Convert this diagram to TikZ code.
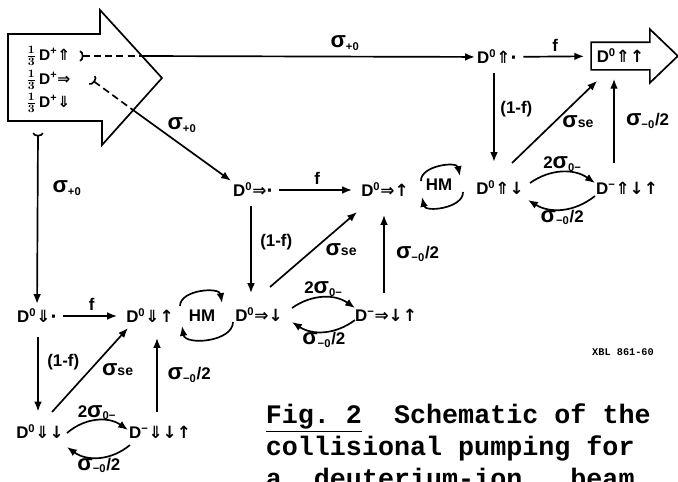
\documentclass[tikz,border=0pt]{standalone}
\usepackage{fontspec}
\setmainfont{Liberation Sans}
\setmonofont{Liberation Mono}
\newfontfamily\arrfont{DejaVu Sans}
\usetikzlibrary{arrows.meta}
\newcommand\sUU{{\arrfont ⇑}}
\newcommand\sDD{{\arrfont ⇓}}
\newcommand\sRR{{\arrfont ⇒}}
\newcommand\sU{{\arrfont ↑}}
\newcommand\sD{{\arrfont ↓}}
\newcommand\sdot{{\arrfont ·}}
\newcommand\sig{{\fontsize{16}{16}\selectfont σ}}
\begin{document}
\begin{tikzpicture}[x=0.025cm, y=0.025cm, line width=1.2pt,
  every node/.style={inner sep=1pt, font=\bfseries\boldmath\fontsize{12}{14}\selectfont},
  beamtxt/.style={font=\bfseries\boldmath\fontsize{11}{13}\selectfont},
  flow/.style={-{Latex[length=7pt,width=5.5pt]}},
  beamtail/.style={{Arc Barb[reversed,length=2.5pt,width=8pt]}-},
  beamflow/.style={{Arc Barb[reversed,length=2.5pt,width=8pt]}-{Latex[length=7pt,width=5.5pt]}},
  beamdash/.style={dash pattern=on 5pt off 3pt}]
  \useasboundingbox (0,0) rectangle (678,-481);
  % incoming D+ beam
  \draw (8,-34) -- (100,-34) -- (100,-10) -- (162,-78) -- (102,-145) -- (102,-121) -- (8,-121) -- cycle;
  \node[beamtxt, anchor=west] (bup) at (24,-56) {$\frac{1}{3}$\,D\textsuperscript{+}\sUU};
  \node[beamtxt, anchor=west] (brt) at (24,-80) {$\frac{1}{3}$\,D\textsuperscript{+}\sRR};
  \node[beamtxt, anchor=west] (bdn) at (24,-103) {$\frac{1}{3}$\,D\textsuperscript{+}\sDD};
  \coordinate (tup) at (80,-56);  \coordinate (cup) at (141,-56);
  \coordinate (trt) at (92,-80);  \coordinate (crt) at (133,-110);
  \coordinate (tdn) at (38,-133);
  % states, top to bottom
  \node (uu0) at (497,-57) {D\textsuperscript{0}\sUU\sdot};
  \node[minimum width=1.425cm, minimum height=0.65cm] (uout) at (620.5,-56) {D\textsuperscript{0}\sUU\sU};
  \node (rr0) at (253,-190) {D\textsuperscript{0}\sRR\sdot};
  \node (ru) at (385,-190) {D\textsuperscript{0}\sRR\sU};
  \node (hmA) at (439,-185) {HM};
  \node (ud) at (500,-188) {D\textsuperscript{0}\sUU\sD};
  \node (uneg) at (627,-188) {D\textsuperscript{−}\sUU\sD\sU};
  \node (dd0) at (37,-316) {D\textsuperscript{0}\sDD\sdot};
  \node (du) at (150,-316) {D\textsuperscript{0}\sDD\sU};
  \node (hmB) at (202,-316) {HM};
  \node (rd) at (259,-315) {D\textsuperscript{0}\sRR\sD};
  \node (rneg) at (386,-315) {D\textsuperscript{−}\sRR\sD\sU};
  \node (dd) at (40,-432) {D\textsuperscript{0}\sDD\sD};
  \node (dneg) at (160,-432) {D\textsuperscript{−}\sDD\sD\sU};
  % outgoing polarized beam
  \draw (uout.north west) -- (uout.north east) -- ([shift={(0,13)}]uout.north east) -- ([shift={(28,0)}]uout.east)
    -- ([shift={(0,-13)}]uout.south east) -- (uout.south east) -- (uout.south west) -- cycle;
  % capture sigma_{+0}
  \draw[beamtail, beamdash] (tup) -- (cup);
  \draw[flow] (cup) -- (uu0);
  \draw[beamtail, beamdash] (trt) -- (crt);
  \draw[flow] (crt) -- (rr0.north west);
  \draw[beamflow, shorten >=2pt] (tdn) -- (dd0);
  \node (lsA) at (345,-43) {\sig\textsubscript{+0}};
  \node (lsB) at (182,-125) {\sig\textsubscript{+0}};
  \node (lsC) at (67,-188) {\sig\textsubscript{+0}};
  % f and (1-f)
  \draw[flow, shorten <=3pt, shorten >=5pt] (uu0) -- (uout) node[midway, above=2pt] (lfA) {f};
  \draw[flow, shorten <=3pt, shorten >=5pt] (rr0) -- (ru) node[midway, above=2pt] (lfB) {f};
  \draw[flow, shorten <=3pt, shorten >=5pt] (dd0) -- (du) node[midway, above=2pt] (lfC) {f};
  \draw[flow, shorten <=5pt, shorten >=12pt] ([shift={(-3,0)}]uu0.south) -- ([shift={(-6,0)}]ud.north) node[pos=0.38, right=3pt] (l1fA) {(1-f)};
  \draw[flow, shorten <=5pt, shorten >=9pt] ([shift={(-2,0)}]rr0.south) -- ([shift={(-8,0)}]rd.north) node[pos=0.4, right=5pt] (l1fB) {(1-f)};
  \draw[flow, shorten <=8pt, shorten >=8pt] ([shift={(1,0)}]dd0.south) -- ([shift={(-2,0)}]dd.north) node[pos=0.38, right=5pt] (l1fC) {(1-f)};
  % spin exchange
  \draw[flow] ([shift={(12,25)}]ud.center) -- ([shift={(6,-11)}]uout.south west) node[pos=0.5, right=4pt] (lseA) {\sig{\fontsize{10}{10}\selectfont se}};
  \draw[flow] ([shift={(11,28)}]rd.center) -- ([shift={(-28,-22)}]ru.center) node[pos=0.5, right=7pt] (lseB) {\sig{\fontsize{10}{10}\selectfont se}};
  \draw[flow] ([shift={(12,20)}]dd.center) -- ([shift={(-22,-12)}]du.center) node[pos=0.5, right=7pt] (lseC) {\sig{\fontsize{10}{10}\selectfont se}};
  % electron loss D- -> D0
  \draw[flow] ([shift={(-13,25)}]uneg.center) -- ([shift={(-6.5,-9)}]uout.south) node[midway, right=7pt] (llA) {\sig\textsubscript{−0}/2};
  \draw[flow] ([shift={(-2,22)}]rneg.center) -- ([shift={(-1,-25)}]ru.center) node[midway, right=7pt] (llB) {\sig\textsubscript{−0}/2};
  \draw[flow] ([shift={(-3,20)}]dneg.center) -- ([shift={(7,-22)}]du.center) node[midway, right=6pt] (llC) {\sig\textsubscript{−0}/2};
  % capture / loss loops
  \draw[flow] ([shift={(30,5)}]ud.center) to[bend left=35] node[above=-1pt] (lcA) {2\sig\textsubscript{0−}} ([shift={(-32,5)}]uneg.center);
  \draw[flow] ([shift={(-32,-8)}]uneg.center) to[bend left=35] node[below=-1pt] (lxA) {\sig\textsubscript{−0}/2} ([shift={(28,-12)}]ud.center);
  \draw[flow] ([shift={(33,7)}]rd.center) to[bend left=35] node[above=-1pt] (lcB) {2\sig\textsubscript{0−}} ([shift={(-31,7)}]rneg.center);
  \draw[flow] ([shift={(-31,-5)}]rneg.center) to[bend left=35] node[below=-1pt] (lxB) {\sig\textsubscript{−0}/2} ([shift={(33,-7)}]rd.center);
  \draw[flow] ([shift={(27,-1)}]dd.center) to[bend left=38] node[above=-1pt] (lcC) {2\sig\textsubscript{0−}} ([shift={(-32,2)}]dneg.center);
  \draw[flow] ([shift={(-30,-13)}]dneg.center) to[bend left=38] node[below=-1pt] (lxC) {\sig\textsubscript{−0}/2} ([shift={(27,-15)}]dd.center);
  % hyperfine mixing
  \draw[flow] ([shift={(-18,4)}]hmA.center) to[bend left=85] ([shift={(21,9)}]hmA.center);
  \draw[flow] ([shift={(24,-7)}]hmA.center) to[bend left=85] ([shift={(-17,-12)}]hmA.center);
  \draw[flow] ([shift={(-22,10)}]hmB.center) to[bend left=85] ([shift={(20,13)}]hmB.center);
  \draw[flow] ([shift={(31,-6)}]hmB.center) to[bend left=85] ([shift={(-20,-10)}]hmB.center);
  \node[font=\ttfamily\bfseries\fontsize{7.3}{9}\selectfont] (xbl) at (623,-352) {XBL 861-60};
  % base of a multi-line node is its last line
  \node[anchor=base west, align=left, inner sep=0pt, font=\ttfamily\bfseries\fontsize{19}{22.6}\selectfont] (cap) at (265,-487)
    {\underline{Fig.\ 2}\ \ Schematic of the\\collisional pumping for\\a\ \ deuterium-ion\ \ \ beam.};
\end{tikzpicture}
\end{document}
